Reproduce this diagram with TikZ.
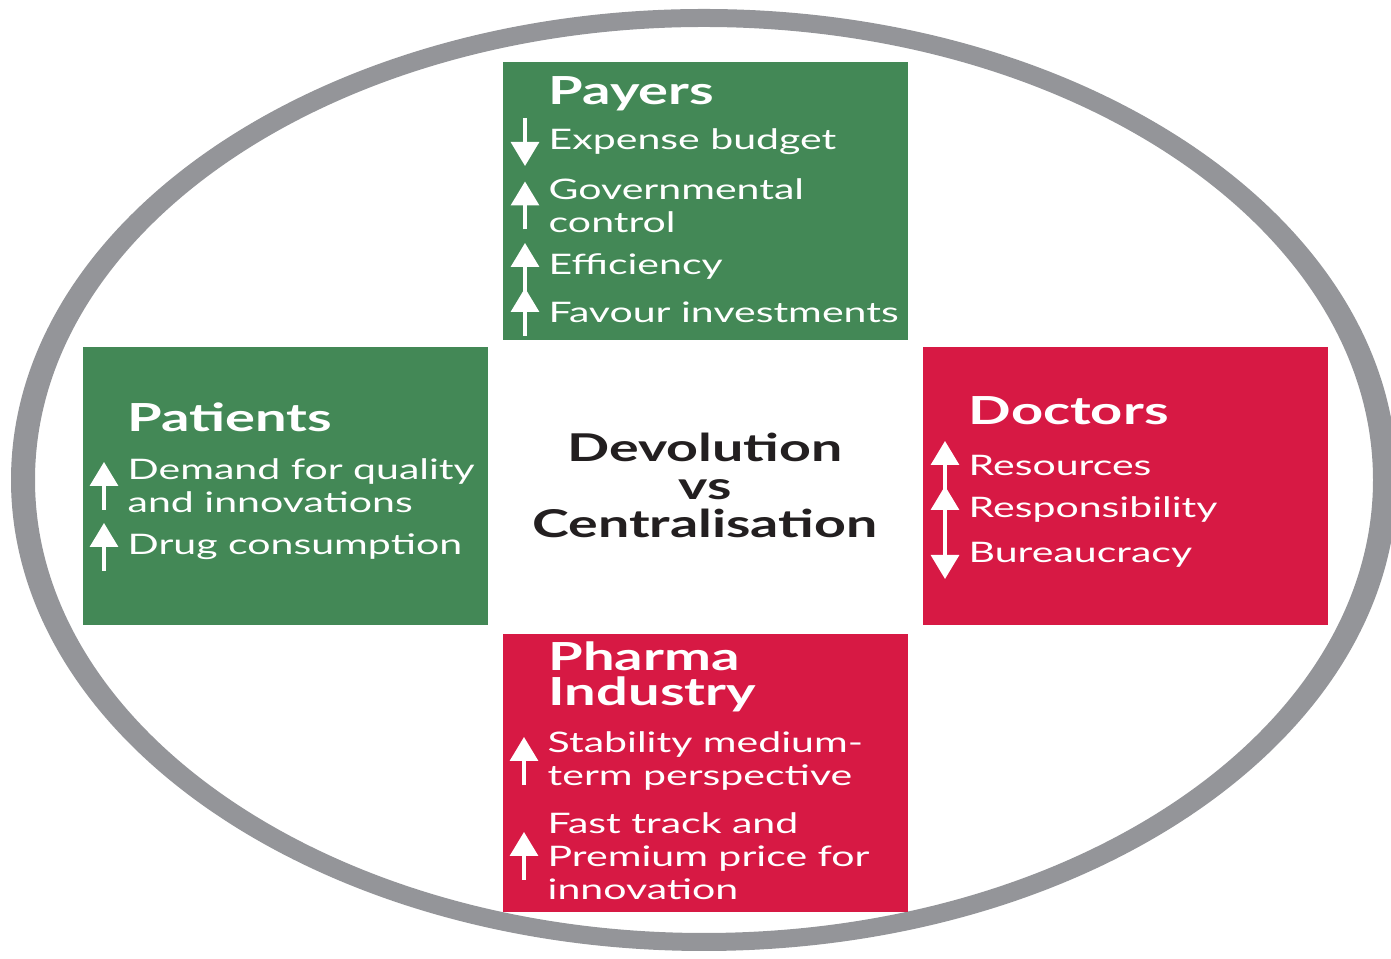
\documentclass[tikz,border=0pt]{standalone}
\usepackage{fontspec}
\setmainfont{Lato}[FakeStretch=1.45]
\usetikzlibrary{arrows.meta}
\definecolor{boxgreen}{RGB}{67,136,86}
\definecolor{boxred}{RGB}{215,25,68}
\definecolor{ringgray}{RGB}{148,149,153}
\definecolor{inkdark}{RGB}{35,31,32}

\begin{document}
\begin{tikzpicture}
        \tikzstyle{panel}=[rectangle,inner sep=0pt,minimum width=4.05cm,minimum height=2.78cm]
        \tikzstyle{head}=[anchor=base west,inner sep=0pt,text=white,align=left,font=\fontsize{11}{10}\selectfont\bfseries]
        \tikzstyle{entry}=[anchor=west,inner sep=0pt,text=white,align=left,font=\fontsize{8.05}{9.4}\selectfont]
        \tikzstyle{tick}=[white,line width=0.9pt,-{Triangle[width=0.28cm,length=0.24cm]}]
        \useasboundingbox (0,0) rectangle (13.91,9.59);

        % grey ring round everything
        \fill[ringgray,even odd rule] (7.04,4.79) ellipse (6.93 and 4.71) (7.04,4.79) ellipse (6.69 and 4.53);

        \node[panel,fill=boxgreen] (payers) at (7.05,7.58) {};
        \node[panel,fill=boxgreen] (patients) at (2.85,4.725) {};
        \node[panel,fill=boxred] (doctors) at (11.25,4.725) {};
        \node[panel,fill=boxred] (pharma) at (7.05,1.86) {};

        \node[text=inkdark,align=center,font=\fontsize{10.9}{10.8}\selectfont\bfseries] (topic) at (7.05,4.74) {Devolution\\vs\\Centralisation};

        % payers
        \node[head] (p0) at (5.48,8.54) {Payers};
        \node[entry] (p1) at (5.48,8.17) {Expense budget};
        \node[entry] (p2) at (5.48,7.535) {Governmental\\control};
        \node[entry] (p3) at (5.48,6.92) {Efficiency};
        \node[entry] (p4) at (5.48,6.47) {Favour investments};

        % patients
        \node[head] (t0) at (1.27,5.27) {Patients};
        \node[entry] (t1) at (1.27,4.73) {Demand for quality\\and innovations};
        \node[entry] (t2) at (1.27,4.12) {Drug consumption};

        % doctors
        \node[head] (d0) at (9.68,5.34) {Doctors};
        \node[entry] (d1) at (9.68,4.94) {Resources};
        \node[entry] (d2) at (9.68,4.49) {Responsibility};
        \node[entry] (d3) at (9.68,4.04) {Bureaucracy};

        % pharma industry
        \node[head,anchor=west] (m0) at (5.48,2.82) {Pharma\\Industry};
        \node[entry] (m1) at (5.47,1.98) {Stability medium-\\term perspective};
        \node[entry] (m2) at (5.47,1.03) {Fast track and\\Premium price for\\innovation};

        % up / down markers
        \draw[tick] ([xshift=-0.23cm,yshift=0.24cm]p1.west) -- ([xshift=-0.23cm,yshift=-0.24cm]p1.west);
        \draw[tick] ([xshift=-0.23cm,yshift=-0.24cm]p2.west) -- ([xshift=-0.23cm,yshift=0.24cm]p2.west);
        \draw[tick] ([xshift=-0.23cm,yshift=-0.24cm]p3.west) -- ([xshift=-0.23cm,yshift=0.24cm]p3.west);
        \draw[tick] ([xshift=-0.23cm,yshift=-0.24cm]p4.west) -- ([xshift=-0.23cm,yshift=0.24cm]p4.west);
        \draw[tick] ([xshift=-0.23cm,yshift=-0.24cm]t1.west) -- ([xshift=-0.23cm,yshift=0.24cm]t1.west);
        \draw[tick] ([xshift=-0.23cm,yshift=-0.24cm]t2.west) -- ([xshift=-0.23cm,yshift=0.24cm]t2.west);
        \draw[tick] ([xshift=-0.23cm,yshift=-0.24cm]d1.west) -- ([xshift=-0.23cm,yshift=0.24cm]d1.west);
        \draw[tick] ([xshift=-0.23cm,yshift=-0.24cm]d2.west) -- ([xshift=-0.23cm,yshift=0.24cm]d2.west);
        \draw[tick] ([xshift=-0.23cm,yshift=0.24cm]d3.west) -- ([xshift=-0.23cm,yshift=-0.24cm]d3.west);
        \draw[tick] ([xshift=-0.23cm,yshift=-0.24cm]m1.west) -- ([xshift=-0.23cm,yshift=0.24cm]m1.west);
        \draw[tick] ([xshift=-0.23cm,yshift=-0.24cm]m2.west) -- ([xshift=-0.23cm,yshift=0.24cm]m2.west);
    \end{tikzpicture}
\end{document}
